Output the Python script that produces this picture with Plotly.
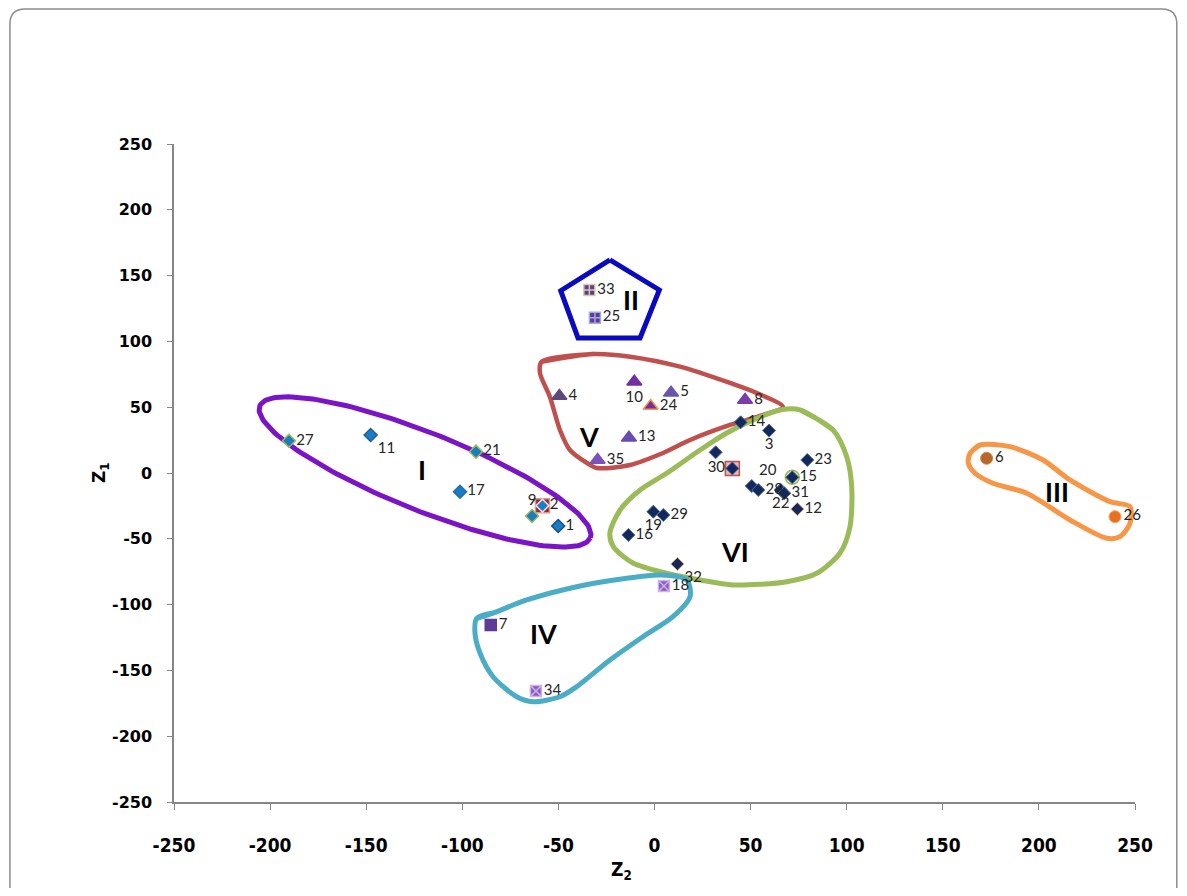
import numpy as np
import plotly.graph_objects as go

# ---------------- data ----------------
# Cluster I
c1_labels = ["27", "11", "21", "17", "9", "2", "1"]
c1_z2 = [-190.2, -147.7, -92.9, -101.2, -63.7, -58.3, -50.1]
c1_z1 = [24.5, 28.9, 16.2, -14.2, -32.7, -24.8, -40.3]

# Cluster II
c2_labels = ["33", "25"]
c2_z2 = [-33.9, -31.0]
c2_z1 = [139.1, 118.0]

# Cluster III
c3_labels = ["6", "26"]
c3_z2 = [172.8, 239.6]
c3_z1 = [11.2, -33.2]

# Cluster IV
c4_labels = ["7", "34", "18"]
c4_z2 = [-85.2, -61.7, 4.9]
c4_z1 = [-115.5, -165.7, -85.9]

# Cluster V
c5_labels = ["4", "10", "5", "24", "8", "13", "35"]
c5_z2 = [-49.5, -10.5, 8.6, -2.0, 47.1, -13.3, -29.6]
c5_z1 = [58.5, 69.4, 61.0, 50.9, 55.5, 26.8, 9.9]

# Cluster VI
c6_labels = ["14", "3", "", "30", "20", "28", "22", "31", "15", "23", "12", "19", "29", "16", "32"]
c6_z2 = [44.8, 59.6, 31.8, 40.5, 50.6, 54.0, 65.7, 67.5, 71.7, 79.5, 74.3, -0.6, 4.6, -13.6, 11.9]
c6_z1 = [38.5, 32.2, 15.7, 3.5, -9.9, -12.9, -12.9, -15.4, -3.3, 9.9, -27.4, -29.4, -31.9, -47.1, -69.1]

# points drawn with an extra marker behind them in the reference
halo_labels = ["2", "30", "15"]

# cluster names and where they are written
roman_labels = ["I", "II", "III", "IV", "V", "VI"]
roman_z2 = [-121.0, -12.2, 209.4, -57.5, -34.1, 41.9]
roman_z1 = [2.3, 131.5, -14.4, -122.3, 28.1, -60.0]

x_tick_vals = [-250, -200, -150, -100, -50, 0, 50, 100, 150, 200, 250]
x_tick_text = ["-250", "-200", "-150", "-100", "-50", "0", "50", "100", "150", "200", "250"]
y_tick_vals = [-250, -200, -150, -100, -50, 0, 50, 100, 150, 200, 250]
y_tick_text = ["-250", "-200", "-150", "-100", "-50", "0", "50", "100", "150", "200", "250"]

# ---------------- hand-drawn cluster outlines (data units) ----------------
ellipse_center = (-119.4, 0.8)
ellipse_u = (86.0, -50.0)
ellipse_v = (-7.3, -27.5)

pent_z2 = [-23.2, 2.5, -7.5, -39.8, -48.8, -23.2]
pent_z1 = [161.9, 139.1, 102.6, 102.6, 138.5, 161.9]

out5_z2 = [-58.7, -31.8, -12.7, 13.3, 39.3, 53.2, 66.9, 56.5, 39.3, 18.5, 4.4, -12.7,
           -29.9, -35.1, -44.0, -49.2, -54.4, -59.6]
out5_z1 = [84.6, 90.4, 88.4, 80.8, 68.4, 60.8, 50.2, 44.1, 36.5, 25.1, 15.2, 6.1,
           3.8, 7.6, 17.5, 32.7, 57.8, 76.0]

out6_z2 = [75.7, 92.9, 100.0, 102.6, 101.7, 96.5, 84.4, 68.8, 40.8, 23.7, 6.3, -11.2,
           -21.4, -23.2, -17.9, -7.5, 6.3, 23.7, 37.6, 51.2, 65.3]
out6_z1 = [47.9, 32.7, 12.4, -10.4, -40.8, -60.8, -76.2, -82.6, -85.1, -81.3, -76.2, -68.4,
           -56.0, -45.6, -28.1, -12.9, -0.2, 17.5, 30.4, 40.3, 47.9]

out4_z2 = [-92.5, -84.0, -66.5, -40.5, -14.5, 2.9, 16.8, 18.5, 9.6, -6.0, -23.2, -40.5,
           -49.2, -63.2, -71.7, -84.0, -90.8, -93.4]
out4_z1 = [-110.4, -106.4, -96.5, -86.4, -80.0, -77.5, -81.3, -94.0, -109.2, -124.4, -142.1, -162.4,
           -170.0, -173.8, -170.0, -154.8, -136.8, -121.6]

out3_z2 = [164.2, 169.4, 185.0, 202.1, 216.2, 237.0, 247.4, 247.4, 242.2, 235.3, 216.2, 193.7,
           176.1, 166.8, 163.3]
out3_z1 = [15.0, 21.3, 20.0, 9.9, -5.3, -21.8, -25.6, -38.2, -48.4, -49.6, -35.7, -15.4,
           -7.8, -0.2, 7.4]

fig = go.Figure()


def closed_spline(xs, ys, color, width):
    xx = list(xs) + list(xs[:2])
    yy = list(ys) + list(ys[:2])
    fig.add_trace(go.Scatter(x=xx, y=yy, mode="lines", cliponaxis=False,
                             line=dict(color=color, width=width, shape="spline", smoothing=0.8),
                             hoverinfo="skip", showlegend=False))


# ellipse for cluster I
t = np.linspace(0, 2 * np.pi, 200)
ex = ellipse_center[0] + ellipse_u[0] * np.cos(t) + ellipse_v[0] * np.sin(t)
ey = ellipse_center[1] + ellipse_u[1] * np.cos(t) + ellipse_v[1] * np.sin(t)
fig.add_trace(go.Scatter(x=ex, y=ey, mode="lines", line=dict(color="#7A14C6", width=5),
                         hoverinfo="skip", showlegend=False))
fig.add_trace(go.Scatter(x=pent_z2, y=pent_z1, mode="lines", line=dict(color="#0A0ABF", width=5),
                         hoverinfo="skip", showlegend=False))
closed_spline(out5_z2, out5_z1, "#C0504D", 4.5)
closed_spline(out6_z2, out6_z1, "#9BBB59", 5)
closed_spline(out4_z2, out4_z1, "#4BACC6", 5)
closed_spline(out3_z2, out3_z1, "#F79646", 5)

# halo markers behind some points
all_labels = c1_labels + c2_labels + c3_labels + c4_labels + c5_labels + c6_labels
all_z2 = c1_z2 + c2_z2 + c3_z2 + c4_z2 + c5_z2 + c6_z2
all_z1 = c1_z1 + c2_z1 + c3_z1 + c4_z1 + c5_z1 + c6_z1
hx = [all_z2[all_labels.index(l)] for l in halo_labels]
hy = [all_z1[all_labels.index(l)] for l in halo_labels]
fig.add_trace(go.Scatter(x=hx, y=hy, mode="markers",
                         marker=dict(symbol=["square", "square", "circle"], size=14,
                                     color=["#8C2D2B", "#E6B9B8", "#D7E4BD"],
                                     line=dict(color=["#D99694", "#C0504D", "#9BBB59"], width=1.5)),
                         hoverinfo="skip", showlegend=False))

label_font = dict(family="Lato, 'Liberation Sans', sans-serif", size=15, color="#262626")


def points(xs, ys, labels, symbols, colors, lines, size, positions, lw=1):
    fig.add_trace(go.Scatter(x=xs, y=ys, mode="markers+text", text=labels,
                             textposition=positions, textfont=label_font, cliponaxis=False,
                             marker=dict(symbol=symbols, size=size, color=colors,
                                         line=dict(color=lines, width=lw)),
                             showlegend=False))


points(c1_z2, c1_z1, c1_labels, "diamond", "#1A7CC2",
       ["#9BBB59", "#1F5F99", "#9BBB59", "#1F6FB0", "#9BBB59", "#F2DCDB", "#17518A"], 10,
       ["middle right", "bottom right", "middle right", "middle right", "top center",
        "middle right", "middle right"], 1.5)
points(c2_z2, c2_z1, c2_labels, "square-cross", "#7030A0", ["#C4D79B", "#95B3D7"], 11,
       "middle right", 1.5)
points(c3_z2, c3_z1, c3_labels, "circle", ["#B9652B", "#E8701E"], ["#C88A4F", "#F4A460"], 12,
       "middle right")
points(c4_z2, c4_z1, c4_labels, ["square", "square-x", "square-x"],
       ["#5E3B96", "#8E5CC0", "#8E5CC0"], ["#5E3B96", "#CCB3E6", "#CCB3E6"], 11,
       "middle right", 1.5)
points(c5_z2, c5_z1, c5_labels, "triangle-up",
       ["#5F497A", "#7030A0", "#6A56A8", "#7030A0", "#7A3DAA", "#6A4BB0", "#7A52B8"],
       ["#5F497A", "#7030A0", "#6A56A8", "#F79646", "#7A3DAA", "#6A4BB0", "#7A52B8"], 13,
       ["middle right", "bottom center", "middle right", "middle right", "middle right",
        "middle right", "middle right"], 1.5)
c6_lines = ["#4A6AA8"] * len(c6_labels)
c6_lines[c6_labels.index("12")] = "#E6A46E"
c6_lines[c6_labels.index("32")] = "#E6A46E"
points(c6_z2, c6_z1, c6_labels, "diamond", "#14285A", c6_lines, 10,
       ["middle right", "bottom center", "middle right", "middle left", "top right",
        "middle right", "bottom center", "middle right", "middle right", "middle right",
        "middle right", "bottom center", "middle right", "middle right", "bottom right"])

for lab, x, y in zip(roman_labels, roman_z2, roman_z1):
    fig.add_annotation(x=x, y=y, text=lab, showarrow=False,
                       font=dict(family="Lato, 'Liberation Sans', sans-serif", size=27,
                                 color="black", weight="bold"))

# axis titles
fig.add_annotation(xref="paper", yref="paper", x=-0.077, y=0.5, xanchor="center", yanchor="middle",
                   text="Z<sub>1</sub>", textangle=-90, showarrow=False,
                   font=dict(family="'DejaVu Sans', sans-serif", size=17, color="black",
                             weight="bold"))
fig.add_annotation(xref="paper", yref="paper", x=0.466, y=-0.104, xanchor="center", yanchor="middle",
                   text="Z<sub>2</sub>", showarrow=False,
                   font=dict(family="'Liberation Sans Narrow', 'DejaVu Sans Condensed', sans-serif",
                             size=19, color="black", weight="bold"))

# rounded chart border
bx0, bx1, byt, byb = -0.1707, 1.0435, 1.2050, -0.25
rx, ry = 0.0156, 0.0228
border_path = (f"M {bx0},{byb} L {bx0},{byt - ry} Q {bx0},{byt} {bx0 + rx},{byt} "
               f"L {bx1 - rx},{byt} Q {bx1},{byt} {bx1},{byt - ry} L {bx1},{byb}")
fig.add_shape(type="path", path=border_path, xref="paper", yref="paper",
              line=dict(color="#8C8C8C", width=1.5))

axis_common = dict(showgrid=False, zeroline=False, showline=True, linecolor="#868686",
                   linewidth=1.5, ticks="outside", tickcolor="#868686", tickwidth=1,
                   range=[-250, 250])
fig.update_xaxes(**axis_common, tickvals=x_tick_vals, ticktext=x_tick_text, ticklen=6,
                 ticklabelstandoff=19,
                 tickfont=dict(family="'Liberation Sans Narrow', 'DejaVu Sans Condensed', sans-serif",
                               size=19, color="black", weight="bold"))
fig.update_yaxes(**axis_common, tickvals=y_tick_vals, ticktext=y_tick_text, ticklen=5,
                 ticklabelstandoff=12,
                 tickfont=dict(family="'DejaVu Sans', sans-serif", size=16, color="black",
                               weight="bold"))

fig.update_layout(width=1171, height=880, margin=dict(l=166, r=44, t=136, b=86),
                  plot_bgcolor="white", paper_bgcolor="white", showlegend=False,
                  hovermode=False)

fig.write_html("out.html")
